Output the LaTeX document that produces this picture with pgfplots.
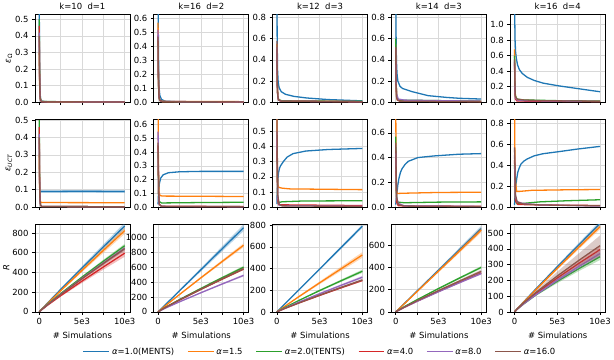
\documentclass[border=0pt]{standalone}
\usepackage{pgfplots}
\pgfplotsset{compat=1.18}
\usepgfplotslibrary{groupplots}
\usepackage{fontspec}
\setmainfont{DejaVu Sans}

\definecolor{c0}{RGB}{31,119,180}
\definecolor{c1}{RGB}{255,127,14}
\definecolor{c2}{RGB}{44,160,44}
\definecolor{c3}{RGB}{214,39,40}
\definecolor{c4}{RGB}{148,103,189}
\definecolor{c5}{RGB}{140,86,75}

\newcommand{\fs}{\fontsize{8.5}{10}\selectfont}

\pgfplotsset{
  s0/.style={color=c0, line width=1.3pt},
  s1/.style={color=c1, line width=1.3pt},
  s2/.style={color=c2, line width=1.3pt},
  s3/.style={color=c3, line width=1.3pt},
  s4/.style={color=c4, line width=1.3pt},
  s5/.style={color=c5, line width=1.3pt},
  band/.style={draw=none, fill opacity=0.3, forget plot},
  legend image code/.code={\draw[#1] (0bp,0bp) -- (26bp,0bp);},
}

\begin{document}
\begin{tikzpicture}
\begin{groupplot}[
  group style={group size=5 by 3, horizontal sep=24bp, vertical sep=17bp},
  width=95bp, height=88bp, scale only axis,
  xmin=-500, xmax=10600, ymin=0,
  xtick={0,2500,5000,7500,10000},
  xticklabels={},
  scaled x ticks=false, scaled y ticks=false,
  grid=major, grid style={gray!30, line width=0.6pt},
  axis line style={black, line width=0.6pt},
  tick align=outside, tick pos=left,
  major tick length=3bp,
  tick style={black, line width=0.5pt},
  tick label style={font=\fs},
  every axis label/.append style={font=\fs},
  title style={font=\fs, yshift=-5bp},
  ylabel style={yshift=-4bp},
]

% ---------------- row 1: eps_Omega ----------------
\nextgroupplot[title={k=10\ \ d=1}, ymax=0.53, ytick={0,0.1,0.2,0.3,0.4,0.5},
  yticklabels={0.0,0.1,0.2,0.3,0.4,0.5}, ylabel={\textit{ε}\textsubscript{Ω}},
  legend style={at={(3.005,-2.747)}, anchor=north, legend columns=6, draw=none,
    font=\fs, /tikz/every even column/.append style={column sep=11bp}}]
\addplot[s0] coordinates {(0,0.6)(40,0.25)(80,0.08)(150,0.02)(300,0.006)(1000,0.003)(10000,0.002)};
\addlegendentry{\textit{α}=1.0(MENTS)}
\addplot[s1] coordinates {(0,0.3)(40,0.12)(80,0.04)(150,0.015)(300,0.005)(1000,0.002)(10000,0.001)};
\addlegendentry{\textit{α}=1.5}
\addplot[s2] coordinates {(0,0.5)(40,0.2)(80,0.06)(150,0.015)(300,0.004)(10000,0.001)};
\addlegendentry{\textit{α}=2.0(TENTS)}
\addplot[s3] coordinates {(0,0.46)(40,0.18)(80,0.05)(150,0.012)(300,0.003)(10000,0.001)};
\addlegendentry{\textit{α}=4.0}
\addplot[s4] coordinates {(0,0.42)(40,0.16)(80,0.05)(150,0.012)(300,0.003)(10000,0.001)};
\addlegendentry{\textit{α}=8.0}
\addplot[s5] coordinates {(0,0.40)(40,0.15)(80,0.045)(150,0.01)(300,0.003)(10000,0.001)};
\addlegendentry{\textit{α}=16.0}

\nextgroupplot[title={k=16\ \ d=2}, ymax=0.63, ytick={0,0.1,0.2,0.3,0.4,0.5,0.6},
  yticklabels={0.0,0.1,0.2,0.3,0.4,0.5,0.6}]
\addplot[s0] coordinates {(0,0.9)(40,0.4)(100,0.12)(200,0.05)(400,0.02)(800,0.008)(2000,0.004)(10000,0.002)};
\addplot[s1] coordinates {(0,0.57)(40,0.2)(100,0.05)(200,0.015)(500,0.006)(10000,0.004)};
\addplot[s2] coordinates {(0,0.45)(40,0.15)(100,0.04)(200,0.012)(500,0.004)(10000,0.002)};
\addplot[s3] coordinates {(0,0.48)(40,0.16)(100,0.04)(200,0.012)(500,0.004)(10000,0.002)};
\addplot[s4] coordinates {(0,0.52)(40,0.18)(100,0.045)(200,0.014)(500,0.005)(10000,0.002)};
\addplot[s5] coordinates {(0,0.47)(40,0.17)(100,0.045)(200,0.015)(500,0.005)(10000,0.002)};

\nextgroupplot[title={k=12\ \ d=3}, ymax=0.83, ytick={0,0.2,0.4,0.6,0.8},
  yticklabels={0.0,0.2,0.4,0.6,0.8}]
\addplot[s0] coordinates {(0,1.2)(30,0.6)(80,0.3)(150,0.19)(250,0.14)(500,0.1)(1000,0.075)(2000,0.055)(3500,0.04)(6000,0.025)(10000,0.013)};
\addplot[s1] coordinates {(0,0.55)(40,0.2)(100,0.06)(200,0.025)(500,0.012)(10000,0.006)};
\addplot[s2] coordinates {(0,0.5)(40,0.18)(100,0.06)(200,0.025)(500,0.015)(2000,0.012)(10000,0.008)};
\addplot[s3] coordinates {(0,0.5)(40,0.17)(100,0.05)(200,0.02)(500,0.01)(10000,0.005)};
\addplot[s4] coordinates {(0,0.52)(40,0.18)(100,0.05)(200,0.02)(500,0.01)(10000,0.005)};
\addplot[s5] coordinates {(0,0.58)(40,0.2)(100,0.06)(200,0.02)(500,0.01)(10000,0.005)};

\nextgroupplot[title={k=14\ \ d=3}, ymax=0.83, ytick={0,0.2,0.4,0.6,0.8},
  yticklabels={0.0,0.2,0.4,0.6,0.8}]
\addplot[s0] coordinates {(0,1.2)(30,0.7)(80,0.4)(150,0.27)(250,0.2)(500,0.15)(800,0.13)(1900,0.1)(3800,0.062)(6000,0.045)(7500,0.037)(10000,0.03)};
\addplot[s1] coordinates {(0,0.55)(40,0.2)(100,0.06)(200,0.03)(500,0.015)(10000,0.008)};
\addplot[s2] coordinates {(0,0.6)(40,0.22)(100,0.07)(200,0.03)(500,0.02)(10000,0.01)};
\addplot[s3] coordinates {(0,0.5)(40,0.17)(100,0.05)(200,0.02)(500,0.01)(10000,0.006)};
\addplot[s4] coordinates {(0,0.5)(40,0.2)(100,0.08)(300,0.03)(1000,0.02)(5000,0.015)(10000,0.01)};
\addplot[s5] coordinates {(0,0.52)(40,0.18)(100,0.05)(200,0.02)(500,0.01)(10000,0.005)};

\nextgroupplot[title={k=16\ \ d=4}, ymax=1.13, ytick={0,0.2,0.4,0.6,0.8,1.0},
  yticklabels={0.0,0.2,0.4,0.6,0.8,1.0}]
\addplot[s0] coordinates {(0,1.6)(20,1.1)(60,0.8)(120,0.65)(200,0.57)(350,0.48)(560,0.42)(900,0.37)(1490,0.32)(2300,0.28)(3360,0.245)(5200,0.21)(7100,0.18)(9000,0.15)(10000,0.135)};
\addplot[s1] coordinates {(0,0.68)(40,0.25)(100,0.08)(300,0.03)(1000,0.02)(10000,0.01)};
\addplot[s2] coordinates {(0,0.6)(40,0.22)(100,0.08)(300,0.04)(1000,0.03)(5000,0.02)(10000,0.015)};
\addplot[s3] coordinates {(0,0.5)(40,0.15)(100,0.04)(300,0.015)(10000,0.008)};
\addplot[s4] coordinates {(0,0.52)(40,0.18)(100,0.06)(300,0.03)(1000,0.02)(10000,0.01)};
\addplot[s5] coordinates {(0,0.55)(40,0.2)(100,0.07)(300,0.04)(1000,0.03)(3000,0.02)(10000,0.012)};

% ---------------- row 2: eps_UCT ----------------
\nextgroupplot[ymax=0.505, ytick={0,0.1,0.2,0.3,0.4,0.5},
  yticklabels={0.0,0.1,0.2,0.3,0.4,0.5}, ylabel={\textit{ε}\textsubscript{\textit{UCT}}}]
\addplot[band, fill=c0] coordinates {(0,0.08)(10000,0.08)(10000,0.10)(0,0.10)};
\addplot[s0] coordinates {(0,0.09)(2500,0.09)(5000,0.091)(7500,0.09)(10000,0.09)};
\addplot[s1] coordinates {(0,0.3)(40,0.12)(100,0.04)(200,0.026)(10000,0.025)};
\addplot[s2] coordinates {(0,0.5)(40,0.2)(80,0.06)(150,0.012)(300,0.003)(10000,0.002)};
\addplot[s3] coordinates {(0,0.46)(40,0.18)(80,0.05)(150,0.01)(300,0.003)(10000,0.002)};
\addplot[s4] coordinates {(0,0.42)(40,0.16)(80,0.05)(150,0.01)(300,0.003)(10000,0.002)};
\addplot[s5] coordinates {(0,0.40)(40,0.15)(80,0.045)(150,0.01)(300,0.003)(10000,0.002)};

\nextgroupplot[ymax=0.64, ytick={0,0.1,0.2,0.3,0.4,0.5,0.6},
  yticklabels={0.0,0.1,0.2,0.3,0.4,0.5,0.6}]
\addplot[s0] coordinates {(0,0.02)(50,0.1)(150,0.17)(300,0.21)(600,0.235)(1200,0.25)(2500,0.257)(5000,0.26)(10000,0.26)};
\addplot[s1] coordinates {(0,0.8)(40,0.3)(100,0.12)(200,0.085)(500,0.08)(10000,0.077)};
\addplot[s2] coordinates {(0,0.4)(60,0.1)(150,0.04)(400,0.03)(5000,0.033)(10000,0.035)};
\addplot[s3] coordinates {(0,0.45)(60,0.1)(150,0.02)(400,0.006)(10000,0.004)};
\addplot[s4] coordinates {(0,0.55)(60,0.12)(150,0.02)(400,0.005)(10000,0.003)};
\addplot[s5] coordinates {(0,0.47)(60,0.1)(150,0.02)(400,0.005)(10000,0.003)};

\nextgroupplot[ymax=0.58, ytick={0,0.1,0.2,0.3,0.4,0.5},
  yticklabels={0.0,0.1,0.2,0.3,0.4,0.5}]
\addplot[s0] coordinates {(0,0.02)(50,0.12)(120,0.18)(190,0.227)(300,0.255)(400,0.27)(750,0.30)(1200,0.33)(1900,0.353)(3400,0.37)(6000,0.38)(10000,0.387)};
\addplot[s1] coordinates {(0,0.8)(40,0.3)(100,0.15)(200,0.13)(600,0.125)(1500,0.12)(10000,0.115)};
\addplot[s2] coordinates {(0,0.4)(80,0.08)(200,0.03)(600,0.035)(3000,0.04)(10000,0.042)};
\addplot[s3] coordinates {(0,0.45)(80,0.05)(200,0.015)(10000,0.01)};
\addplot[s4] coordinates {(0,0.5)(100,0.06)(300,0.01)(10000,0.005)};
\addplot[s5] coordinates {(0,0.6)(100,0.08)(250,0.02)(600,0.008)(10000,0.004)};

\nextgroupplot[ymax=0.71, ytick={0,0.2,0.4,0.6}, yticklabels={0.0,0.2,0.4,0.6}]
\addplot[s0] coordinates {(0,0.02)(60,0.06)(150,0.12)(250,0.18)(370,0.23)(550,0.28)(740,0.31)(1100,0.345)(1480,0.37)(2600,0.40)(4440,0.413)(7400,0.427)(10000,0.432)};
\addplot[s1] coordinates {(0,0.9)(40,0.3)(100,0.13)(200,0.11)(1000,0.112)(5000,0.118)(10000,0.12)};
\addplot[s2] coordinates {(0,0.57)(80,0.1)(200,0.04)(1000,0.035)(5000,0.04)(10000,0.042)};
\addplot[s3] coordinates {(0,0.45)(100,0.04)(300,0.01)(10000,0.006)};
\addplot[s4] coordinates {(0,0.5)(100,0.08)(300,0.03)(1000,0.01)(10000,0.005)};
\addplot[s5] coordinates {(0,0.52)(100,0.08)(300,0.02)(1000,0.008)(10000,0.004)};

\nextgroupplot[ymax=0.84, ytick={0,0.2,0.4,0.6,0.8}, yticklabels={0.0,0.2,0.4,0.6,0.8}]
\addplot[s0] coordinates {(0,0.02)(60,0.12)(120,0.18)(185,0.23)(270,0.28)(370,0.33)(550,0.375)(740,0.41)(1100,0.44)(1480,0.46)(2300,0.49)(3330,0.51)(5190,0.53)(7400,0.555)(10000,0.58)};
\addplot[s1] coordinates {(0,1.0)(40,0.5)(100,0.25)(250,0.15)(600,0.15)(2000,0.16)(6000,0.165)(10000,0.168)};
\addplot[s2] coordinates {(0,0.4)(100,0.06)(300,0.03)(1000,0.035)(3000,0.05)(6000,0.06)(10000,0.07)};
\addplot[s3] coordinates {(0,0.45)(100,0.06)(400,0.025)(3000,0.02)(10000,0.015)};
\addplot[s4] coordinates {(0,0.5)(100,0.1)(300,0.05)(1000,0.035)(3000,0.02)(10000,0.01)};
\addplot[s5] coordinates {(0,0.57)(100,0.12)(300,0.05)(1000,0.03)(3000,0.02)(10000,0.012)};

% ---------------- row 3: R ----------------
\nextgroupplot[ymax=890, ytick={0,200,400,600,800}, yticklabels={0,200,400,600,800},
  xticklabels={0,,5e3,,10e3}, xlabel={\# Simulations}, ylabel={\textit{R}}]
\addplot[band, fill=c0] coordinates {(0,0)(2500,236)(5000,462)(7500,684)(10000,905)(10000,835)(7500,632)(5000,426)(2500,218)};
\addplot[s0] coordinates {(0,0)(250,24)(1000,93)(2500,227)(5000,444)(7500,658)(10000,870)};
\addplot[band, fill=c1] coordinates {(0,0)(2500,223)(5000,437)(7500,648)(10000,856)(10000,790)(7500,598)(5000,403)(2500,205)};
\addplot[s1] coordinates {(0,0)(250,23)(1000,88)(2500,214)(5000,420)(7500,623)(10000,823)};
\addplot[band, fill=c2] coordinates {(0,0)(2500,191)(5000,363)(7500,528)(10000,690)(10000,650)(7500,498)(5000,341)(2500,179)};
\addplot[s2] coordinates {(0,0)(250,22)(1000,79)(2500,185)(5000,352)(7500,513)(10000,670)};
\addplot[band, fill=c3] coordinates {(0,0)(2500,174)(5000,331)(7500,482)(10000,631)(10000,559)(7500,428)(5000,293)(2500,154)};
\addplot[s3] coordinates {(0,0)(250,19)(1000,70)(2500,164)(5000,312)(7500,455)(10000,595)};
\addplot[band, fill=c4] coordinates {(0,0)(2500,183)(5000,349)(7500,509)(10000,664)(10000,626)(7500,479)(5000,329)(2500,173)};
\addplot[s4] coordinates {(0,0)(250,21)(1000,76)(2500,178)(5000,339)(7500,494)(10000,645)};
\addplot[band, fill=c5] coordinates {(0,0)(2500,181)(5000,346)(7500,505)(10000,659)(10000,621)(7500,475)(5000,326)(2500,171)};
\addplot[s5] coordinates {(0,0)(250,21)(1000,75)(2500,176)(5000,336)(7500,490)(10000,640)};

\nextgroupplot[ymax=1180, ytick={0,200,400,600,800,1000}, yticklabels={0,200,400,600,800,1000},
  xticklabels={0,,5e3,,10e3}, xlabel={\# Simulations}]
\addplot[band, fill=c0] coordinates {(0,0)(2500,294)(5000,588)(7500,882)(10000,1175)(10000,1085)(7500,814)(5000,542)(2500,272)};
\addplot[s0] coordinates {(0,0)(250,28)(1000,113)(2500,283)(5000,565)(7500,848)(10000,1130)};
\addplot[band, fill=c1] coordinates {(0,0)(2500,240)(5000,471)(7500,697)(10000,922)(10000,868)(7500,657)(5000,443)(2500,226)};
\addplot[s1] coordinates {(0,0)(250,25)(1000,96)(2500,233)(5000,457)(7500,677)(10000,895)};
\addplot[band, fill=c2] coordinates {(0,0)(2500,170)(5000,324)(7500,473)(10000,618)(10000,582)(7500,445)(5000,306)(2500,160)};
\addplot[s2] coordinates {(0,0)(250,19)(1000,71)(2500,165)(5000,315)(7500,459)(10000,600)};
\addplot[band, fill=c3] coordinates {(0,0)(2500,161)(5000,308)(7500,449)(10000,587)(10000,563)(7500,431)(5000,296)(2500,155)};
\addplot[s3] coordinates {(0,0)(250,19)(1000,68)(2500,158)(5000,302)(7500,440)(10000,575)};
\addplot[band, fill=c4] coordinates {(0,0)(2500,139)(5000,265)(7500,386)(10000,505)(10000,475)(7500,364)(5000,249)(2500,131)};
\addplot[s4] coordinates {(0,0)(250,16)(1000,58)(2500,135)(5000,257)(7500,375)(10000,490)};
\addplot[band, fill=c5] coordinates {(0,0)(2500,165)(5000,313)(7500,457)(10000,597)(10000,563)(7500,431)(5000,295)(2500,155)};
\addplot[s5] coordinates {(0,0)(250,19)(1000,68)(2500,160)(5000,304)(7500,444)(10000,580)};

\nextgroupplot[ymax=810, ytick={0,200,400,600,800}, yticklabels={0,200,400,600,800},
  xticklabels={0,,5e3,,10e3}, xlabel={\# Simulations}]
\addplot[band, fill=c0] coordinates {(0,0)(2500,202)(5000,403)(7500,605)(10000,806)(10000,774)(7500,581)(5000,387)(2500,194)};
\addplot[s0] coordinates {(0,0)(250,20)(1000,79)(2500,198)(5000,395)(7500,593)(10000,790)};
\addplot[band, fill=c1] coordinates {(0,0)(2500,144)(5000,281)(7500,417)(10000,551)(10000,499)(7500,377)(5000,255)(2500,130)};
\addplot[s1] coordinates {(0,0)(250,15)(1000,56)(2500,137)(5000,268)(7500,397)(10000,525)};
\addplot[band, fill=c2] coordinates {(0,0)(2500,107)(5000,205)(7500,298)(10000,390)(10000,360)(7500,276)(5000,189)(2500,99)};
\addplot[s2] coordinates {(0,0)(250,12)(1000,44)(2500,103)(5000,197)(7500,287)(10000,375)};
\addplot[band, fill=c3] coordinates {(0,0)(2500,82)(5000,157)(7500,229)(10000,299)(10000,281)(7500,215)(5000,147)(2500,78)};
\addplot[s3] coordinates {(0,0)(250,9)(1000,34)(2500,80)(5000,152)(7500,222)(10000,290)};
\addplot[band, fill=c4] coordinates {(0,0)(2500,92)(5000,175)(7500,255)(10000,333)(10000,307)(7500,235)(5000,161)(2500,84)};
\addplot[s4] coordinates {(0,0)(250,10)(1000,38)(2500,88)(5000,168)(7500,245)(10000,320)};
\addplot[band, fill=c5] coordinates {(0,0)(2500,83)(5000,160)(7500,233)(10000,304)(10000,286)(7500,219)(5000,150)(2500,79)};
\addplot[s5] coordinates {(0,0)(250,10)(1000,35)(2500,81)(5000,155)(7500,226)(10000,295)};

\nextgroupplot[ymax=790, ytick={0,200,400,600}, yticklabels={0,200,400,600},
  xticklabels={0,,5e3,,10e3}, xlabel={\# Simulations}]
\addplot[band, fill=c0] coordinates {(0,0)(2500,194)(5000,386)(7500,580)(10000,773)(10000,728)(7500,546)(5000,364)(2500,182)};
\addplot[s0] coordinates {(0,0)(250,19)(1000,75)(2500,188)(5000,375)(7500,563)(10000,750)};
\addplot[band, fill=c1] coordinates {(0,0)(2500,188)(5000,377)(7500,567)(10000,757)(10000,713)(7500,534)(5000,355)(2500,178)};
\addplot[s1] coordinates {(0,0)(250,18)(1000,73)(2500,183)(5000,366)(7500,550)(10000,735)};
\addplot[band, fill=c2] coordinates {(0,0)(2500,113)(5000,216)(7500,315)(10000,412)(10000,388)(7500,297)(5000,204)(2500,107)};
\addplot[s2] coordinates {(0,0)(250,13)(1000,47)(2500,110)(5000,210)(7500,306)(10000,400)};
\addplot[band, fill=c3] coordinates {(0,0)(2500,99)(5000,190)(7500,276)(10000,361)(10000,339)(7500,260)(5000,178)(2500,93)};
\addplot[s3] coordinates {(0,0)(250,11)(1000,41)(2500,96)(5000,184)(7500,268)(10000,350)};
\addplot[band, fill=c4] coordinates {(0,0)(2500,98)(5000,186)(7500,272)(10000,355)(10000,335)(7500,256)(5000,176)(2500,92)};
\addplot[s4] coordinates {(0,0)(250,11)(1000,41)(2500,95)(5000,181)(7500,264)(10000,345)};
\addplot[band, fill=c5] coordinates {(0,0)(2500,105)(5000,200)(7500,290)(10000,380)(10000,350)(7500,268)(5000,184)(2500,97)};
\addplot[s5] coordinates {(0,0)(250,12)(1000,43)(2500,101)(5000,192)(7500,279)(10000,365)};

\nextgroupplot[ymax=557, ytick={0,100,200,300,400,500}, yticklabels={0,100,200,300,400,500},
  xticklabels={0,,5e3,,10e3}, xlabel={\# Simulations}]
\addplot[band, fill=c0] coordinates {(0,0)(2500,150)(5000,295)(7500,437)(10000,577)(10000,543)(7500,411)(5000,277)(2500,142)};
\addplot[s0] coordinates {(0,0)(250,16)(1000,60)(2500,146)(5000,286)(7500,424)(10000,560)};
\addplot[band, fill=c1] coordinates {(0,0)(2500,145)(5000,284)(7500,421)(10000,556)(10000,524)(7500,397)(5000,268)(2500,137)};
\addplot[s1] coordinates {(0,0)(250,15)(1000,58)(2500,141)(5000,276)(7500,409)(10000,540)};
\addplot[band, fill=c2] coordinates {(0,0)(2500,114)(5000,206)(7500,290)(10000,371)(10000,329)(7500,258)(5000,182)(2500,102)};
\addplot[s2] coordinates {(0,0)(250,15)(1000,49)(2500,108)(5000,194)(7500,274)(10000,350)};
\addplot[band, fill=c3] coordinates {(0,0)(2500,123)(5000,226)(7500,322)(10000,415)(10000,375)(7500,292)(5000,204)(2500,111)};
\addplot[s3] coordinates {(0,0)(250,15)(1000,52)(2500,117)(5000,215)(7500,307)(10000,395)};
\addplot[band, fill=c4] coordinates {(0,0)(2500,114)(5000,211)(7500,301)(10000,389)(10000,351)(7500,273)(5000,191)(2500,104)};
\addplot[s4] coordinates {(0,0)(250,14)(1000,49)(2500,109)(5000,201)(7500,287)(10000,370)};
\addplot[band, fill=c5] coordinates {(0,0)(2500,136)(5000,255)(7500,370)(10000,485)(10000,350)(7500,290)(5000,205)(2500,115)};
\addplot[s5] coordinates {(0,0)(250,16)(1000,55)(2500,124)(5000,228)(7500,326)(10000,420)};

\end{groupplot}
\end{tikzpicture}
\end{document}
